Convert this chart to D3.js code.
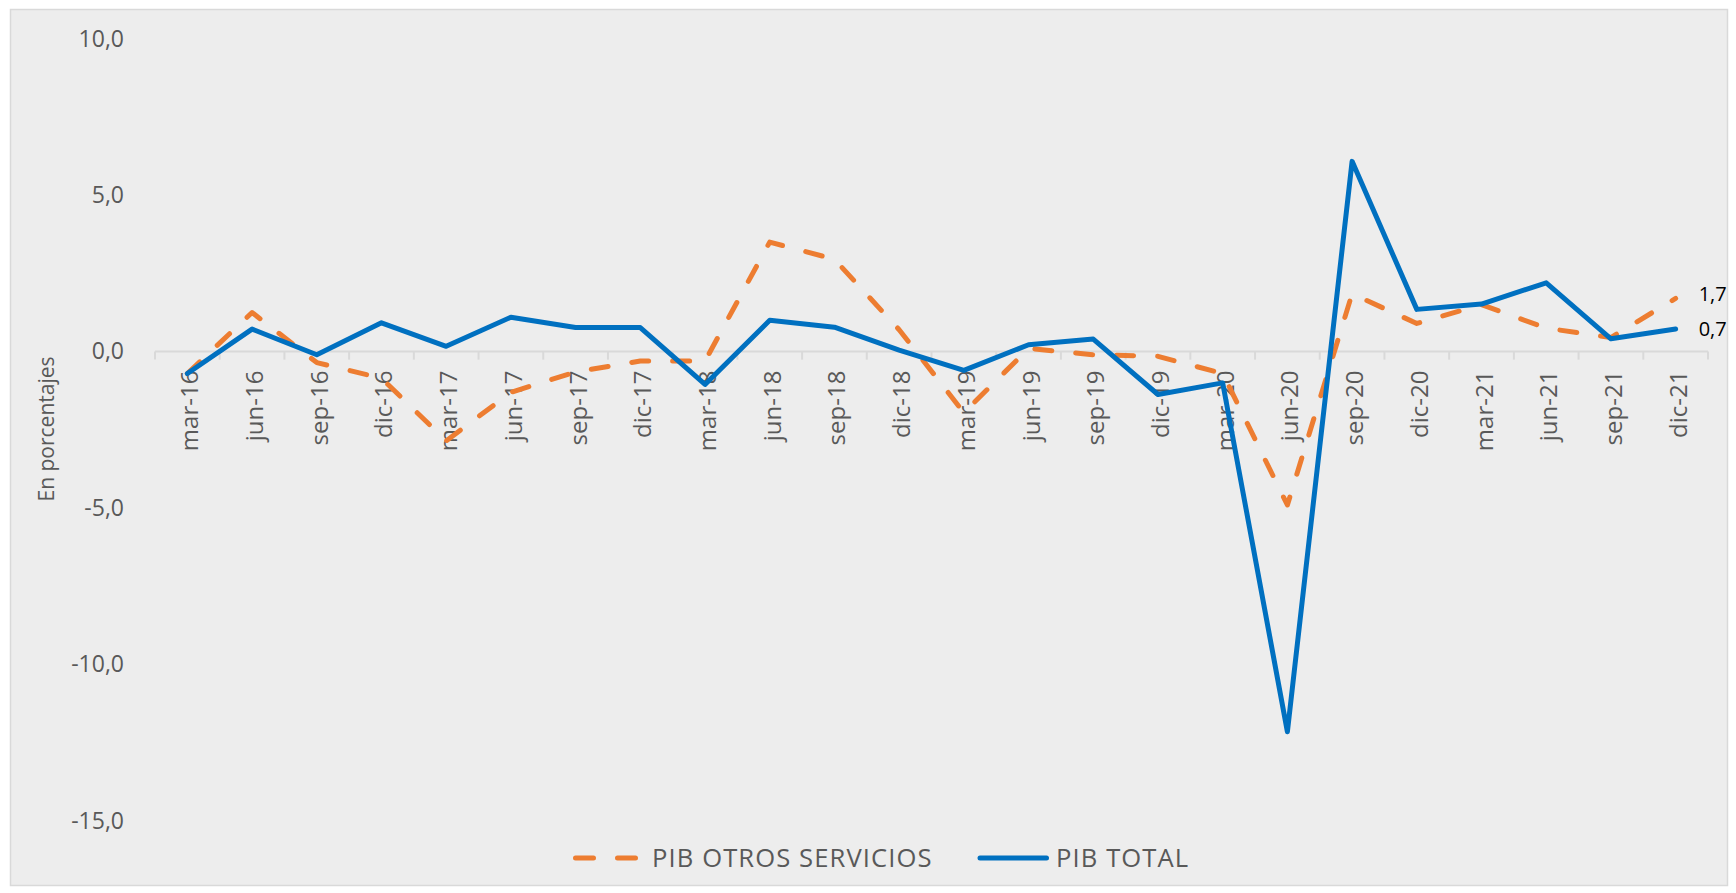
<!DOCTYPE html>
<html>
<head>
<meta charset="utf-8">
<script src="https://cdn.jsdelivr.net/npm/d3@7"></script>
<style>
  body { margin: 0; background: #fff; }
  text { font-family: "Open Sans", "Noto Sans", sans-serif; }
</style>
</head>
<body>
<div id="chart"></div>
<script>
// quarters on the x axis
const quarters = ["mar-16", "jun-16", "sep-16", "dic-16", "mar-17", "jun-17", "sep-17", "dic-17",
    "mar-18", "jun-18", "sep-18", "dic-18", "mar-19", "jun-19", "sep-19", "dic-19",
    "mar-20", "jun-20", "sep-20", "dic-20", "mar-21", "jun-21", "sep-21", "dic-21"];

const otrosServicios = [-0.7, 1.25, -0.35, -0.85, -2.85, -1.3, -0.65, -0.3,
    -0.3, 3.5, 2.95, 0.7, -1.95, 0.1, -0.1, -0.15,
    -0.7, -4.9, 1.85, 0.9, 1.5, 0.75, 0.45, 1.7];

const pibTotal = [-0.7, 0.72, -0.1, 0.92, 0.17, 1.1, 0.77, 0.77,
    -1.05, 1.0, 0.78, 0.05, -0.6, 0.22, 0.4, -1.37,
    -1.0, -12.15, 6.08, 1.35, 1.52, 2.2, 0.41, 0.72];

const yTicks = [10, 5, 0, -5, -10, -15];

const seriesNames = ["PIB OTROS SERVICIOS", "PIB TOTAL"];
const lastLabels = ["1,7", "0,7"];

const W = 1736, H = 893;
const plot = { left: 155, right: 1708, top: 38.7, bottom: 821 };

const svg = d3.select("#chart")
    .append("svg")
    .attr("width", W)
    .attr("height", H);

// chart area background
svg.append("rect")
    .attr("x", 10.5).attr("y", 9.5)
    .attr("width", 1717).attr("height", 876)
    .attr("fill", "#EDEDED")
    .attr("stroke", "#D9D9D9")
    .attr("stroke-width", 1.5);

const x = d3.scaleBand()
    .domain(quarters)
    .range([plot.left, plot.right]);

const y = d3.scaleLinear()
    .domain([-15, 10])
    .range([plot.bottom, plot.top]);

const fmt = v => d3.format(".1f")(v).replace(".", ",").replace("−", "-");

// y axis labels (no axis line in the original)
const yAxis = svg.append("g")
    .attr("transform", `translate(${124},0)`)
    .call(d3.axisLeft(y).tickValues(yTicks).tickSize(0).tickPadding(0).tickFormat(fmt));
yAxis.select(".domain").remove();
yAxis.selectAll("text")
    .attr("fill", "#595959")
    .attr("font-size", "23px");

// y axis title
svg.append("text")
    .attr("transform", `translate(54,${429}) rotate(-90)`)
    .attr("text-anchor", "middle")
    .attr("font-size", "21px")
    .attr("fill", "#595959")
    .text("En porcentajes");

// x axis at zero: line plus boundary ticks
const xAxisG = svg.append("g");
xAxisG.append("line")
    .attr("x1", plot.left).attr("x2", plot.right)
    .attr("y1", y(0)).attr("y2", y(0))
    .attr("stroke", "#D9D9D9")
    .attr("stroke-width", 2);

const boundaries = quarters.map(q => x(q)).concat([x(quarters[quarters.length - 1]) + x.bandwidth()]);
xAxisG.selectAll(".tickmark")
    .data(boundaries)
    .enter().append("line")
    .attr("class", "tickmark")
    .attr("x1", d => d).attr("x2", d => d)
    .attr("y1", y(0)).attr("y2", y(0) + 8)
    .attr("stroke", "#D9D9D9")
    .attr("stroke-width", 2);

xAxisG.selectAll(".xlabel")
    .data(quarters)
    .enter().append("text")
    .attr("class", "xlabel")
    .attr("transform", d => `translate(${x(d) + x.bandwidth() / 2 + 11},${y(0) + 19}) rotate(-90)`)
    .attr("text-anchor", "end")
    .attr("font-size", "24px")
    .attr("fill", "#595959")
    .text(d => d);

// lines
const line = d3.line()
    .x((d, i) => x(quarters[i]) + x.bandwidth() / 2)
    .y(d => y(d));

svg.append("path")
    .datum(otrosServicios)
    .attr("fill", "none")
    .attr("stroke", "#ED7D31")
    .attr("stroke-width", 5)
    .attr("stroke-linecap", "round")
    .attr("stroke-linejoin", "round")
    .attr("stroke-dasharray", "17,24")
    .attr("d", line);

svg.append("path")
    .datum(pibTotal)
    .attr("fill", "none")
    .attr("stroke", "#0070C0")
    .attr("stroke-width", 5)
    .attr("stroke-linecap", "round")
    .attr("stroke-linejoin", "round")
    .attr("d", line);

// end labels
const lastX = x(quarters[quarters.length - 1]) + x.bandwidth() / 2;
[otrosServicios, pibTotal].forEach((s, i) => {
    svg.append("text")
        .attr("x", lastX + 23)
        .attr("y", y(s[s.length - 1]) + (i === 0 ? -4 : 0))
        .attr("dy", "0.35em")
        .attr("font-size", "20px")
        .attr("fill", "#000")
        .text(lastLabels[i]);
});

// legend
const legend = svg.append("g").attr("transform", "translate(0,858)");
legend.append("line")
    .attr("x1", 575.5).attr("x2", 635.5).attr("y1", 0).attr("y2", 0)
    .attr("stroke", "#ED7D31").attr("stroke-width", 5)
    .attr("stroke-linecap", "round")
    .attr("stroke-dasharray", "18,24");
legend.append("text")
    .attr("x", 652).attr("y", 0).attr("dy", "0.35em")
    .attr("font-size", "25.6px").attr("letter-spacing", "1.1px").attr("fill", "#595959")
    .text(seriesNames[0]);
legend.append("line")
    .attr("x1", 980).attr("x2", 1046.5).attr("y1", 0).attr("y2", 0)
    .attr("stroke", "#0070C0").attr("stroke-width", 5)
    .attr("stroke-linecap", "round");
legend.append("text")
    .attr("x", 1056).attr("y", 0).attr("dy", "0.35em")
    .attr("font-size", "25.6px").attr("letter-spacing", "1.1px").attr("fill", "#595959")
    .text(seriesNames[1]);
</script>
</body>
</html>
